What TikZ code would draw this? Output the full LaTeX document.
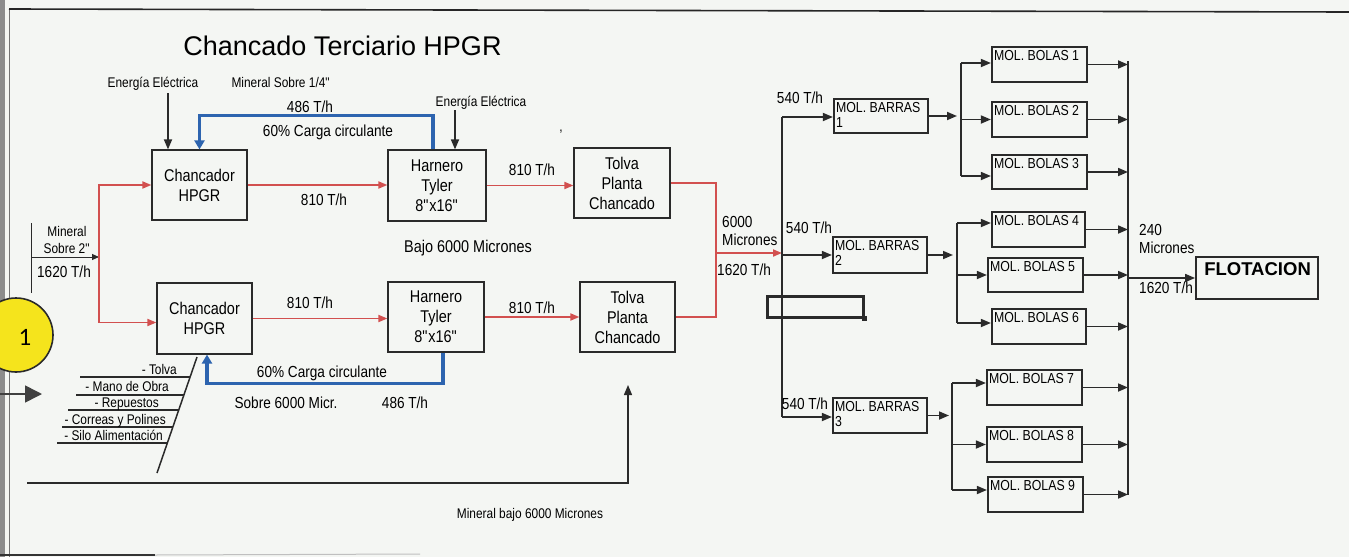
\documentclass[tikz,border=0pt]{standalone}
\usepackage{fontspec}
\setmainfont{Liberation Sans}[FakeStretch=0.85]
\newfontfamily\titlefont{Liberation Sans}
\newfontfamily\numfont{Carlito}
\usetikzlibrary{arrows.meta,calc}
\definecolor{paper}{HTML}{F4F6F3}
\definecolor{redln}{HTML}{D2504F}
\definecolor{bluln}{HTML}{2D64AF}
\definecolor{ink}{HTML}{2A2A2A}
\definecolor{sunny}{HTML}{F5E41C}
\newcommand\fsz[2]{\fontsize{#1}{#2}\selectfont}
\newcommand\dq{\XeTeXglyph\XeTeXglyphindex "quotedbl" }
\begin{document}
\begin{tikzpicture}[x=1pt,y=-1pt,
 box/.style={draw=ink, line width=1.2pt, align=center, inner sep=0pt, font=\fsz{17}{20}},
 molbox/.style={draw=ink, line width=2.2pt, inner sep=0pt, minimum width=95pt, minimum height=35pt},
 moltext/.style={label={[anchor=north west, inner xsep=3pt, inner ysep=4.5pt, font=\fsz{14.5}{15}, align=left]north west:#1}},
 lbls/.style={font=\fsz{14}{16}, inner sep=0pt, anchor=base},
 lblm/.style={font=\fsz{16}{18}, inner sep=0pt, anchor=base},
 redarr/.style={draw=redln, line width=1.8pt, -{Triangle[length=9pt,width=7pt]}},
 redlin/.style={draw=redln, line width=1.8pt},
 bluarr/.style={draw=bluln, line width=3.2pt, -{Triangle[length=9pt,width=10pt]}},
 blkarr/.style={draw=ink, line width=1.7pt, -{Triangle[length=10pt,width=8pt]}},
 blklin/.style={draw=ink, line width=1.7pt},
 fish/.style={draw=ink, line width=1.5pt},
 fishtxt/.style={font=\fsz{14}{16}, inner sep=0pt, anchor=base east},
]
\useasboundingbox (0,0) rectangle (1349,557);
\fill[paper] (0,0) rectangle (1349,557);
% frame of the scan
\fill[black!45] (0,0) rectangle (5,557);
\draw[black!55, line width=1pt] (9,9) -- (9,557);
\draw[black!85, line width=1.6pt] (9,9) -- (1349,12);
\draw[black!80, line width=2pt] (0,555) -- (155,555);
\draw[black!25, line width=1pt] (155,555) -- (420,554);

% title
\node[font=\titlefont\fsz{27}{30}, inner sep=0pt, anchor=base] (title) at (342.5,55) {Chancado Terciario HPGR};

% boxes
\node[box, minimum width=95pt, minimum height=70pt] (hpgr1) at (199.5,185) {Chancador\\HPGR};
\node[box, minimum width=98pt, minimum height=71pt] (harn1) at (437,185.5) {Harnero\\Tyler\\8\dq x16\dq};
\node[box, minimum width=96pt, minimum height=70pt] (tolva1) at (622,183) {Tolva\\Planta\\Chancado};
\node[box, minimum width=95pt, minimum height=71pt] (hpgr2) at (204.5,318.5) {Chancador\\HPGR};
\node[box, minimum width=96pt, minimum height=70pt] (harn2) at (436,317) {Harnero\\Tyler\\8\dq x16\dq};
\node[box, minimum width=95pt, minimum height=70pt] (tolva2) at (627.5,317) {Tolva\\Planta\\Chancado};

% input
\coordinate (inA) at (31,223);
\coordinate (inB) at (31,293);
\coordinate (inC) at (31,257);
\coordinate (split) at (99,257);
\draw[ink, line width=1pt] (inA) -- (inB);
\draw[ink, line width=1pt, -{Triangle[length=7pt,width=6pt]}] (inC) -- (split);
\node[lbls] (min1) at (67,236) {Mineral};
\node[lbls] (min2) at (67,253) {Sobre 2\dq};
\node[lblm] (min3) at (64,277) {1620 T/h};

\draw[redarr] (split) |- (hpgr1.west);
\draw[redarr] (split) |- ([yshift=-4pt]hpgr2.west);

% energy arrows and labels
\node[lbls] (ee1) at (153,87) {Energía Eléctrica};
\node[lbls] (ms14) at (281,87) {Mineral Sobre 1/4\dq};
\coordinate (e1s) at (168,93);
\draw[blkarr] (e1s) -- (e1s |- hpgr1.north);
\node[lbls] (ee2) at (481,106) {Energía Eléctrica};
\coordinate (e2s) at (455,110);
\draw[blkarr] (e2s) -- (e2s |- harn1.north);
\node[lbls] (comma) at (561,131) {,};

% red flows
\draw[redarr] (hpgr1.east) -- (hpgr1.east -| harn1.west);
\draw[redarr] (harn1.east) -- (harn1.east -| tolva1.west);
\draw[redarr] (hpgr2.east) -- (hpgr2.east -| harn2.west);
\draw[redarr] (harn2.east) -- (harn2.east -| tolva2.west);
\node[lblm] (t1) at (324,205) {810 T/h};
\node[lblm] (t2) at (532,175) {810 T/h};
\node[lblm] (t3) at (310,308) {810 T/h};
\node[lblm] (t4) at (532,313) {810 T/h};
\node[font=\fsz{17}{19}, inner sep=0pt, anchor=base] (bajo) at (468,252) {Bajo 6000 Micrones};

% blue recirculation
\draw[bluarr] ([xshift=-4pt]harn1.north) -- ++(0,-34) -| (hpgr1.north);
\draw[bluarr] ([xshift=7pt]harn2.south) -- ++(0,31) -| ([xshift=2.5pt]hpgr2.south);
\node[lblm] (c1a) at (310,112) {486 T/h};
\node[lblm] (c1b) at (328,136) {60\% Carga circulante};
\node[lblm] (c2b) at (322,377) {60\% Carga circulante};
\node[lblm] (c2c) at (286,408) {Sobre 6000 Micr.};
\node[lblm] (c2a) at (405,408) {486 T/h};

% merge to milling
\coordinate (merge) at (716,253);
\coordinate (busin) at (782,253);
\draw[redlin] (tolva1.east) -| (merge) |- (tolva2.east);
\draw[redarr] (merge) -- (busin);
\node[lblm, anchor=base west] (m6000) at (722,227) {6000};
\node[lblm, anchor=base west] (mmic) at (722,245) {Micrones};
\node[lblm, anchor=base west] (m1620) at (717,275) {1620 T/h};

% undersize bypass line
\coordinate (mbs) at (27,483);
\coordinate (mbe) at (628,385);
\draw[blkarr, line width=1.3pt] (mbs) -| (mbe);
\node[lbls] (mbtxt) at (530,518) {Mineral bajo 6000 Micrones};

% fishbone
\coordinate (fbt) at (197,357);
\coordinate (fbb) at (157,473);
\draw[fish] (fbt) -- (fbb);
\draw[fish] (80,377) -- (190,377);
\draw[fish] (76,395) -- (184,395);
\draw[fish] (68,410) -- (179,410);
\draw[fish] (62,427) -- (173,427);
\draw[fish] (57,443) -- (167,443);
\node[fishtxt] (f1) at (177,374) {- Tolva};
\node[fishtxt] (f2) at (169,391) {- Mano de Obra};
\node[fishtxt] (f3) at (159,407) {- Repuestos};
\node[fishtxt] (f4) at (166,424) {- Correas y Polines};
\node[fishtxt] (f5) at (163,440) {- Silo Alimentación};

% yellow marker and big arrow
\node[circle, fill=sunny, draw=ink, line width=1.6pt, minimum size=74pt, inner sep=0pt] (mark) at (16,335) {};
\node[font=\numfont\fsz{25}{28}, inner sep=0pt] (one) at (25,337) {1};
\coordinate (bigs) at (0,394);
\coordinate (bige) at (42,394);
\draw[black!75, line width=1.6pt, -{Triangle[length=17pt,width=17pt]}] (bigs) -- (bige);

% milling section
\node[molbox, minimum width=94pt, minimum height=34pt, moltext={MOL. BARRAS\\1}] (bar1) at (881,116) {};
\node[molbox, minimum width=94pt, minimum height=36pt, moltext={MOL. BARRAS\\2}] (bar2) at (880,255) {};
\node[molbox, minimum width=94pt, minimum height=35pt, moltext={MOL. BARRAS\\3}] (bar3) at (880,415.5) {};
\node[molbox, moltext={MOL. BOLAS 1}] (bol1) at (1039.5,64.5) {};
\node[molbox, moltext={MOL. BOLAS 2}] (bol2) at (1039.5,119.5) {};
\node[molbox, minimum height=34pt, moltext={MOL. BOLAS 3}] (bol3) at (1039.5,172) {};
\node[molbox, minimum width=93pt, moltext={MOL. BOLAS 4}] (bol4) at (1038.5,229.5) {};
\node[molbox, minimum height=34pt, moltext={MOL. BOLAS 5}] (bol5) at (1035.5,275) {};
\node[molbox, minimum width=94pt, moltext={MOL. BOLAS 6}] (bol6) at (1039,326.5) {};
\node[molbox, moltext={MOL. BOLAS 7}] (bol7) at (1034.5,387.5) {};
\node[molbox, moltext={MOL. BOLAS 8}] (bol8) at (1034.5,444.5) {};
\node[molbox, moltext={MOL. BOLAS 9}] (bol9) at (1035.5,494.5) {};

% selected empty box
\node[draw=ink, line width=3pt, minimum width=96pt, minimum height=21pt, inner sep=0pt] (selbox) at (815,306.5) {};
\node[fill=ink, minimum size=5pt, inner sep=0pt] (handle) at (selbox.south east) {};

% distribution bus
\coordinate (bustop) at (782,117);
\coordinate (busbot) at (782,417);
\draw[blklin] (bustop) -- (busbot);
\draw[blkarr] (bustop) -- (bustop -| bar1.west);
\draw[blkarr] (bar2.west -| bustop) -- (bar2.west);
\draw[blkarr] (busbot) -- (busbot -| bar3.west);
\node[lblm] (r1) at (800,103) {540 T/h};
\node[lblm] (r2) at (809,233) {540 T/h};
\node[lblm] (r3) at (805,409) {540 T/h};

% branches
\coordinate (br1t) at (961,63);
\coordinate (br1b) at (961,176);
\draw[blklin] (br1t) -- (br1b);
\draw[blkarr] (bar1.east) -- ($(bar1.east -| br1t)+(-4,0)$);
\draw[blkarr] (br1t) -- (br1t -| bol1.west);
\draw[blkarr] (bol2.west -| br1t) -- (bol2.west);
\draw[blkarr] (br1b) -- (br1b -| bol3.west);

\coordinate (br2t) at (957,223);
\coordinate (br2b) at (957,323);
\draw[blklin] (br2t) -- (br2b);
\draw[blkarr] (bar2.east) -- ($(bar2.east -| br2t)+(-4,0)$);
\draw[blkarr] (br2t) -- (br2t -| bol4.west);
\draw[blkarr] (bol5.west -| br2t) -- (bol5.west);
\draw[blkarr] (br2b) -- (br2b -| bol6.west);

\coordinate (br3t) at (952,383);
\coordinate (br3b) at (952,490);
\draw[blklin] (br3t) -- (br3b);
\draw[blkarr] (bar3.east) -- ($(bar3.east -| br3t)+(-3,0)$);
\draw[blkarr] (br3t) -- (br3t -| bol7.west);
\draw[blkarr] (bol8.west -| br3t) -- (bol8.west);
\draw[blkarr] (br3b) -- (br3b -| bol9.west);

% collector
\coordinate (colt) at (1128,61);
\coordinate (colb) at (1128,495);
\draw[blklin] (colt) -- (colb);
\foreach \b in {bol1,bol2,bol3,bol4,bol5,bol6,bol7,bol8,bol9}
  \draw[blkarr] (\b.east) -- (\b.east -| colt);

% flotation
\node[draw=ink, line width=1.8pt, minimum width=122pt, minimum height=42pt, inner sep=0pt,
  label={[anchor=north west, inner xsep=9pt, inner ysep=6pt, font=\titlefont\bfseries\fsz{18.5}{20}]north west:FLOTACION}] (flot) at (1257,278) {};
\draw[blkarr] (flot.west -| colt) -- (flot.west);
\node[lblm, anchor=base west] (o240) at (1139,235) {240};
\node[lblm, anchor=base west] (omic) at (1139,253) {Micrones};
\node[lblm, anchor=base west] (o1620) at (1139,293) {1620 T/h};
\end{tikzpicture}
\end{document}
